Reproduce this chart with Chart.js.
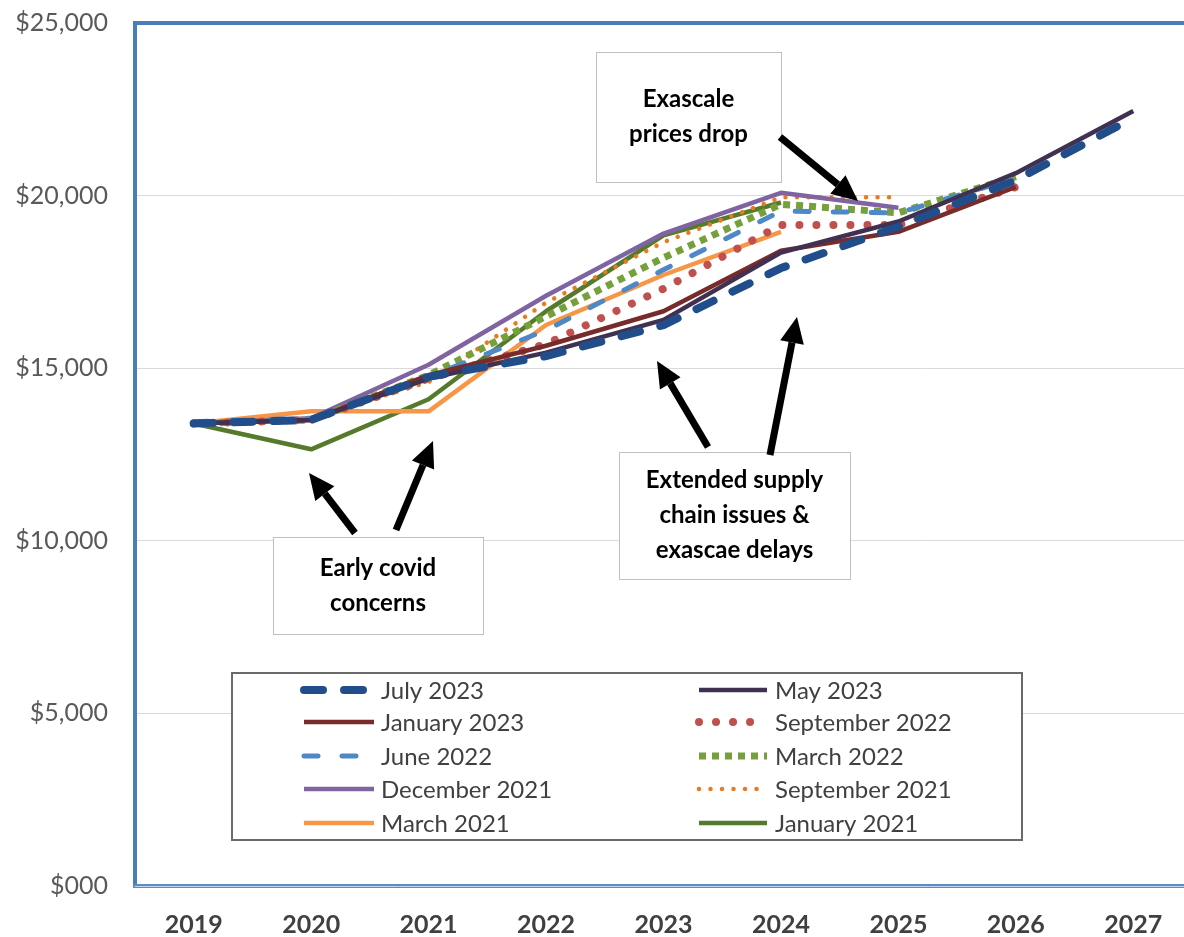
<!DOCTYPE html>
<html>
<head>
<meta charset="utf-8">
<script src="https://cdn.jsdelivr.net/npm/chart.js@4/dist/chart.umd.min.js"></script>
<style>
  html, body { margin: 0; padding: 0; background: #ffffff; overflow: hidden; }
  #wrap { width: 1192px; height: 937px; }
</style>
</head>
<body>
<div id="wrap"><canvas id="c" width="1192" height="937"></canvas></div>
<script>
// ---- data ----
const years = ['2019', '2020', '2021', '2022', '2023', '2024', '2025', '2026', '2027'];
const yTickLabels = ['$000', '$5,000', '$10,000', '$15,000', '$20,000', '$25,000'];

const july2023 = [13400, 13500, 14750, 15350, 16250, 17900, 19100, 20450, 22250];
const may2023  = [13400, 13500, 14700, 15450, 16400, 18350, 19250, 20650, 22450];
const jan2023  = [13400, 13500, 14800, 15650, 16650, 18400, 18950, 20250, null];
const sep2022  = [13400, 13500, 14700, 15700, 17300, 19150, 19150, 20250, null];
const jun2022  = [13450, 13550, 14750, 16100, 17850, 19550, 19500, 20500, null];
const mar2022  = [13400, 13500, 14800, 16500, 18200, 19750, 19500, 20550, null];
const dec2021  = [13400, 13550, 15100, 17100, 18900, 20080, 19650, null, null];
const sep2021  = [13400, 13550, 14600, 16900, 18650, 19950, 19950, null, null];
const mar2021  = [13400, 13750, 13750, 16250, 17700, 18950, null, null, null];
const jan2021  = [13400, 12650, 14100, 16650, 18850, 19800, null, null, null];

const seriesNames = ['July 2023', 'May 2023', 'January 2023', 'September 2022', 'June 2022',
                     'March 2022', 'December 2021', 'September 2021', 'March 2021', 'January 2021'];

const annotations = [
  { lines: ['Exascale', 'prices drop'], box: [596, 52, 185, 130] },
  { lines: ['Extended supply', 'chain issues &', 'exascae delays'], box: [619, 452, 231, 127] },
  { lines: ['Early covid', 'concerns'], box: [273, 537, 210, 97] }
];
const arrows = [
  [780, 137, 858, 201],
  [708, 447, 657, 361],
  [770, 455, 797, 317],
  [355, 533, 309, 473],
  [396, 530, 433, 441]
];

// ---- styles ----
function ds(label, data, color, width, dash, cap) {
  return {
    label, data, borderColor: color, backgroundColor: color, borderWidth: width,
    borderDash: dash, borderCapStyle: cap, borderJoinStyle: 'round',
    pointRadius: 0, pointHoverRadius: 0, tension: 0, fill: false, spanGaps: false
  };
}
const datasets = [
  ds(seriesNames[0], july2023, '#214e8a', 8, [19, 21], 'round'),
  ds(seriesNames[1], may2023,  '#403152', 4.5, [], 'butt'),
  ds(seriesNames[2], jan2023,  '#772b2b', 4.5, [], 'butt'),
  ds(seriesNames[3], sep2022,  '#c0504d', 8, [0.01, 17], 'round'),
  ds(seriesNames[4], jun2022,  '#4f88c6', 5, [14, 24], 'round'),
  ds(seriesNames[5], mar2022,  '#76a03c', 7, [7, 6], 'butt'),
  ds(seriesNames[6], dec2021,  '#8064a2', 4.5, [], 'butt'),
  ds(seriesNames[7], sep2021,  '#ea7a1e', 4.5, [0.01, 11.5], 'round'),
  ds(seriesNames[8], mar2021,  '#f79646', 4.5, [], 'butt'),
  ds(seriesNames[9], jan2021,  '#557a2c', 4.5, [], 'butt')
];

const FONT = 'Lato, "Open Sans", "DejaVu Sans", sans-serif';

function drawArrow(ctx, x1, y1, x2, y2) {
  const ang = Math.atan2(y2 - y1, x2 - x1);
  const headLen = 26, headW = 12;
  const bx = x2 - headLen * Math.cos(ang), by = y2 - headLen * Math.sin(ang);
  ctx.save();
  ctx.strokeStyle = '#000'; ctx.fillStyle = '#000';
  ctx.lineWidth = 7; ctx.lineCap = 'butt';
  ctx.beginPath(); ctx.moveTo(x1, y1); ctx.lineTo(bx, by); ctx.stroke();
  ctx.beginPath();
  ctx.moveTo(x2, y2);
  ctx.lineTo(bx + headW * Math.sin(ang), by - headW * Math.cos(ang));
  ctx.lineTo(bx - headW * Math.sin(ang), by + headW * Math.cos(ang));
  ctx.closePath(); ctx.fill();
  ctx.restore();
}

const decor = {
  id: 'decor',
  afterDatasetsDraw(chart) {
    const ctx = chart.ctx, a = chart.chartArea;
    ctx.save();
    // plot border
    ctx.strokeStyle = '#4a7ebb';
    ctx.lineWidth = 4;
    ctx.beginPath();
    ctx.moveTo(a.left, a.bottom); ctx.lineTo(a.left, a.top); ctx.lineTo(a.right + 10, a.top);
    ctx.stroke();
    ctx.lineWidth = 4; ctx.strokeStyle = '#5b8bc9';
    ctx.beginPath(); ctx.moveTo(a.left - 2, a.bottom); ctx.lineTo(a.right + 10, a.bottom); ctx.stroke();
    ctx.lineWidth = 1; ctx.strokeStyle = '#c5d6ec';
    ctx.beginPath(); ctx.moveTo(a.left, a.bottom + 0.5); ctx.lineTo(a.right + 10, a.bottom + 0.5); ctx.stroke();

    // legend box
    const lx = 232, ly = 673, lw = 790, lh = 167;
    ctx.fillStyle = '#ffffff';
    ctx.fillRect(lx, ly, lw, lh);
    ctx.strokeStyle = '#6a6a6a'; ctx.lineWidth = 2;
    ctx.strokeRect(lx, ly, lw, lh);
    const rowsY = [690, 722, 756, 789, 823];
    const cols = [[304, 374, 381], [699, 767, 775]];
    chart.data.datasets.forEach((d, i) => {
      const col = cols[i % 2], y = rowsY[Math.floor(i / 2)];
      ctx.save();
      ctx.strokeStyle = d.borderColor;
      ctx.lineWidth = d.borderWidth;
      ctx.lineCap = d.borderCapStyle;
      ctx.setLineDash(d.borderDash);
      ctx.beginPath(); ctx.moveTo(col[0], y); ctx.lineTo(col[1], y); ctx.stroke();
      ctx.restore();
      ctx.fillStyle = '#404040';
      ctx.font = '24px ' + FONT;
      ctx.textAlign = 'left'; ctx.textBaseline = 'middle';
      ctx.fillText(d.label, col[2], y + 1);
    });

    // annotation boxes
    annotations.forEach(an => {
      const [bx, by, bw, bh] = an.box;
      ctx.fillStyle = '#ffffff';
      ctx.fillRect(bx, by, bw, bh);
      ctx.strokeStyle = '#bfbfbf'; ctx.lineWidth = 1;
      ctx.strokeRect(bx + 0.5, by + 0.5, bw, bh);
      ctx.fillStyle = '#000000';
      ctx.font = 'bold 24px ' + FONT;
      ctx.textAlign = 'center'; ctx.textBaseline = 'middle';
      const lineH = 35;
      const cy = by + bh / 2 - (an.lines.length - 1) * lineH / 2;
      an.lines.forEach((t, k) => ctx.fillText(t, bx + bw / 2, cy + k * lineH));
    });

    arrows.forEach(ar => drawArrow(ctx, ar[0], ar[1], ar[2], ar[3]));
    ctx.restore();
  }
};

new Chart(document.getElementById('c'), {
  type: 'line',
  data: { labels: years, datasets },
  options: {
    responsive: false,
    animation: false,
    devicePixelRatio: 1,
    layout: { padding: { top: 23, left: 0, right: 0, bottom: 0 } },
    plugins: { legend: { display: false }, tooltip: { enabled: false } },
    scales: {
      x: {
        offset: true,
        grid: { display: false, drawTicks: false },
        border: { display: false },
        ticks: { color: '#404040', font: { family: FONT, size: 25, weight: 'bold' }, padding: 24, maxRotation: 0 },
        afterFit(s) { s.height = 51; s.paddingLeft = 0; s.paddingRight = 0; }
      },
      y: {
        min: 0, max: 25000,
        grid: {
          drawTicks: false,
          color: (c) => (c.tick && (c.tick.value === 0 || c.tick.value === 25000)) ? 'rgba(0,0,0,0)' : '#d9d9d9',
          lineWidth: 1
        },
        border: { display: false },
        ticks: {
          stepSize: 5000,
          color: '#595959',
          font: { family: FONT, size: 25 },
          padding: 27,
          callback: (v) => yTickLabels[Math.round(v / 5000)]
        },
        afterFit(s) { s.width = 135; s.paddingTop = 0; s.paddingBottom = 0; }
      }
    }
  },
  plugins: [decor]
});
</script>
</body>
</html>
